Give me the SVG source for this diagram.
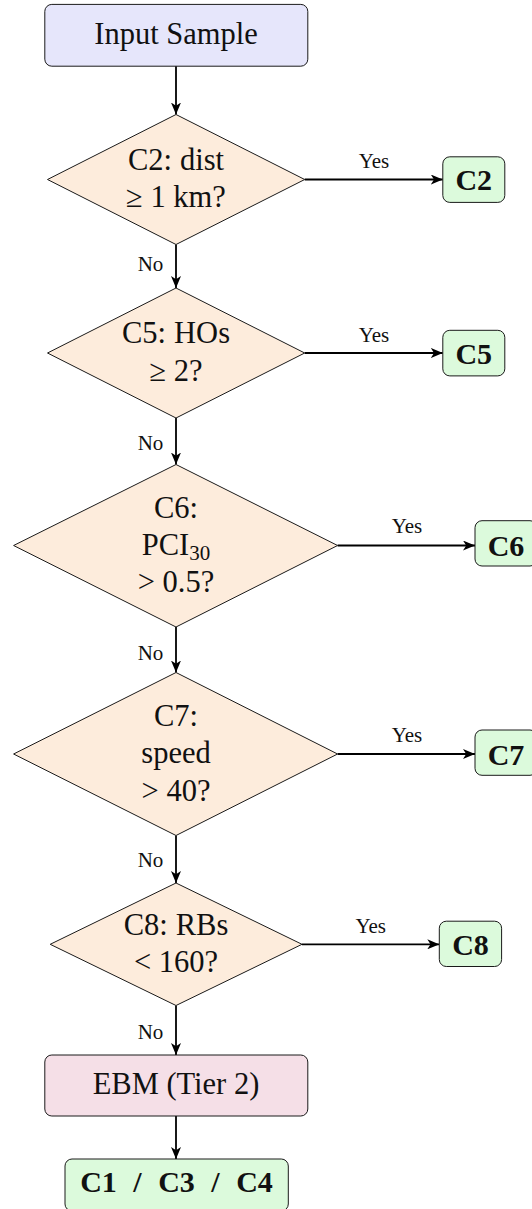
<svg xmlns="http://www.w3.org/2000/svg" width="532" height="1209" viewBox="0 0 532 1209">
  <style>
    .node { stroke: #1a1a1a; stroke-width: 1; }
    .start { fill: #e6e6fb; }
    .dec { fill: #fdecdc; }
    .out { fill: #dcfadc; }
    .ebm { fill: #f5dfe7; }
    text { font-family: 'Liberation Serif', 'DejaVu Serif', serif; fill: #111; text-anchor: middle; }
    .t { font-size: 30.5px; }
    .b { font-size: 30px; font-weight: bold; }
    .lbl { font-size: 21px; }
    .sub { font-size: 21px; }
    .edge { stroke: #000; stroke-width: 1.8; fill: none; marker-end: url(#head); }
  </style>
  <defs>
    <marker id="head" markerUnits="userSpaceOnUse" markerWidth="12" markerHeight="10" viewBox="0 0 12 10" refX="12" refY="5" orient="auto">
      <path d="M0,0 L12,5 L0,10 L3.2,5 Z" fill="#000"/>
    </marker>
  </defs>

  <!-- connectors -->
  <g id="connectors">
    <line class="edge" x1="176" y1="66" x2="176" y2="114.5"/>
    <line class="edge" x1="176" y1="244.5" x2="176" y2="288"/>
    <line class="edge" x1="176" y1="418" x2="176" y2="464.5"/>
    <line class="edge" x1="176" y1="627" x2="176" y2="672.5"/>
    <line class="edge" x1="176" y1="835.5" x2="176" y2="883"/>
    <line class="edge" x1="176" y1="1005.5" x2="176" y2="1055"/>
    <line class="edge" x1="176" y1="1116" x2="176" y2="1159"/>

    <line class="edge" x1="304.7" y1="179.5" x2="442.8" y2="179.5"/>
    <line class="edge" x1="304.7" y1="353" x2="442.8" y2="353"/>
    <line class="edge" x1="337.6" y1="545.5" x2="475" y2="545.5"/>
    <line class="edge" x1="337.6" y1="754" x2="475" y2="754"/>
    <line class="edge" x1="302" y1="944.3" x2="439.3" y2="944.3"/>

    <text class="lbl" x="374" y="167.5">Yes</text>
    <text class="lbl" x="374" y="341.6">Yes</text>
    <text class="lbl" x="407" y="533">Yes</text>
    <text class="lbl" x="407" y="742.1">Yes</text>
    <text class="lbl" x="370.7" y="932.5">Yes</text>

    <text class="lbl" x="150.5" y="271">No</text>
    <text class="lbl" x="150.5" y="450.2">No</text>
    <text class="lbl" x="150.5" y="660.2">No</text>
    <text class="lbl" x="150.5" y="866.6">No</text>
    <text class="lbl" x="150.5" y="1038.6">No</text>
  </g>

  <g id="input">
    <rect class="node start" x="44.8" y="4.4" width="263" height="61.8" rx="7"/>
    <text class="t" x="176" y="43.6">Input Sample</text>
  </g>

  <g id="c2-check">
    <polygon class="node dec" points="176,114.5 304.7,179.5 176,244.5 47.5,179.5"/>
    <text class="t" x="176" y="169.7">C2:<tspan dx="8">dist</tspan></text>
    <text class="t" x="176" y="207">≥ 1 km?</text>
  </g>

  <g id="c5-check">
    <polygon class="node dec" points="176,288 304.7,353 176,418 47.5,353"/>
    <text class="t" x="176" y="343.3">C5:<tspan dx="8">HOs</tspan></text>
    <text class="t" x="176" y="380.6">≥ 2?</text>
  </g>

  <g id="c6-check">
    <polygon class="node dec" points="176,464.5 337.6,545.5 176,627 13.6,545.5"/>
    <text class="t" x="176" y="517.7">C6:</text>
    <text class="t" x="176" y="555">PCI<tspan class="sub" dy="5">30</tspan></text>
    <text class="t" x="176" y="592.3">&gt; 0.5?</text>
  </g>

  <g id="c7-check">
    <polygon class="node dec" points="176,672.5 337.6,754 176,835.5 13.6,754"/>
    <text class="t" x="176" y="725.8">C7:</text>
    <text class="t" x="176" y="763.1">speed</text>
    <text class="t" x="176" y="800.5">&gt; 40?</text>
  </g>

  <g id="c8-check">
    <polygon class="node dec" points="176,883 302,944.3 176,1005.5 50.2,944.3"/>
    <text class="t" x="176" y="934.6">C8:<tspan dx="8">RBs</tspan></text>
    <text class="t" x="176" y="972.2">&lt; 160?</text>
  </g>

  <g id="out-c2">
    <rect class="node out" x="442.8" y="156.8" width="62" height="45.6" rx="7"/>
    <text class="b" x="473.8" y="189.8">C2</text>
  </g>

  <g id="out-c5">
    <rect class="node out" x="442.8" y="330.3" width="62" height="45.6" rx="7"/>
    <text class="b" x="473.8" y="363.8">C5</text>
  </g>

  <g id="out-c6">
    <rect class="node out" x="475" y="520.7" width="62" height="45.3" rx="7"/>
    <text class="b" x="506" y="555.8">C6</text>
  </g>

  <g id="out-c7">
    <rect class="node out" x="475" y="730" width="62" height="45.3" rx="7"/>
    <text class="b" x="506" y="764.5">C7</text>
  </g>

  <g id="out-c8">
    <rect class="node out" x="439.3" y="921.2" width="62.3" height="45.3" rx="7"/>
    <text class="b" x="470.5" y="954.5">C8</text>
  </g>

  <g id="ebm">
    <rect class="node ebm" x="44.8" y="1055" width="263" height="61" rx="7"/>
    <text class="t" x="176" y="1094">EBM (Tier 2)</text>
  </g>

  <g id="out-c134">
    <rect class="node out" x="65" y="1159" width="223.3" height="52" rx="7"/>
    <text class="b" x="176.5" y="1192" style="word-spacing: 9px">C1 / C3 / C4</text>
  </g>
</svg>
